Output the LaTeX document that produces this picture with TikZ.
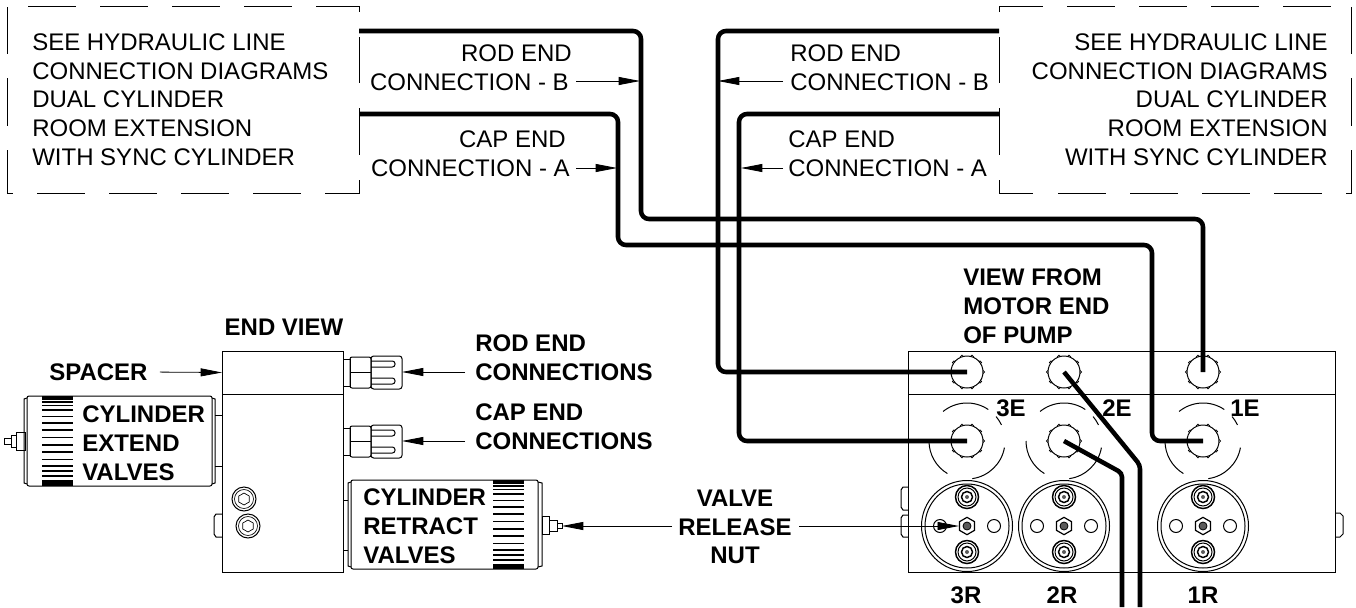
\documentclass[tikz,border=0pt]{standalone}
\usepackage{fontspec}
\setmainfont{Liberation Sans}
\usetikzlibrary{arrows.meta,shapes.geometric}
\tikzset{
	x=0.75pt,y=-0.75pt,
	part/.style={line width=0.75pt},
	hose/.style={line width=3.4pt},
	leader/.style={line width=0.6pt,-{Triangle[length=16pt,width=6pt]}},
	plain/.style={font=\fontsize{18}{21.56}\selectfont,inner sep=0pt},
	heavy/.style={font=\bfseries\fontsize{18}{21.56}\selectfont,inner sep=0pt},
	knob/.style={circle,draw,line width=0.75pt,fill=white,minimum size=24pt,inner sep=0pt},
	hexnut/.style={regular polygon,regular polygon sides=6,shape border rotate=30,draw,line width=0.9pt,fill=white,minimum size=13pt,inner sep=0pt},
}
\begin{document}
\begin{tikzpicture}
				% 颜色列表
				\definecolor{mygray}{RGB}{90,90,90}
				\useasboundingbox (0,0) rectangle (1356,607);
				
				% 左侧虚线框
				\foreach \a/\b in {28/76,100/148,172/220,244/292}
				\draw[part] (\a,6.5) -- (\b,6.5);
				\draw[part] (316,6.5) -- (359,6.5) -- (359,12);
				\draw[part] (359,37) -- (359,83);
				\draw[part] (359,108) -- (359,155);
				\draw[part] (359,180) -- (359,193) -- (325,193);
				\foreach \a/\b in {37/85,109/157,181/229,253/301}
				\draw[part] (\a,193) -- (\b,193);
				\draw[part] (7,7) -- (7,54);
				\draw[part] (7,78) -- (7,126);
				\draw[part] (7,150) -- (7,193) -- (13,193);
				
				% 右侧虚线框
				\draw[part] (999,12) -- (999,6.5) -- (1043,6.5);
				\foreach \a/\b in {1067/1115,1139/1187,1211/1259,1283/1331}
				\draw[part] (\a,6.5) -- (\b,6.5);
				\draw[part] (999,37) -- (999,83);
				\draw[part] (999,108) -- (999,155);
				\draw[part] (999,180) -- (999,193) -- (1033,193);
				\foreach \a/\b in {1058/1106,1130/1178,1202/1250,1274/1322}
				\draw[part] (\a,193) -- (\b,193);
				\draw[part] (1351,7) -- (1351,54);
				\draw[part] (1351,78) -- (1351,126);
				\draw[part] (1351,150) -- (1351,193) -- (1346,193);
				
				% 文字
				\node[plain,anchor=west,align=left] (seeL) at (32,99.5) {SEE HYDRAULIC LINE\\CONNECTION DIAGRAMS\\DUAL CYLINDER\\ROOM EXTENSION\\WITH SYNC CYLINDER};
				\node[plain,anchor=east,align=right] (seeR) at (1328,99.5) {SEE HYDRAULIC LINE\\CONNECTION DIAGRAMS\\DUAL CYLINDER\\ROOM EXTENSION\\WITH SYNC CYLINDER};
				\node[plain,anchor=east,align=right] (rodL) at (569,67.5) {ROD END\kern-2.25pt\\CONNECTION - B};
				\node[plain,anchor=west,align=left] (rodR) at (790,67.5) {ROD END\\CONNECTION - B};
				\node[plain,anchor=east,align=right] (capL) at (570,154) {CAP END\kern3pt\\CONNECTION - A};
				\node[plain,anchor=west,align=left] (capR) at (788,154) {CAP END\\CONNECTION - A};
				\node[heavy,anchor=west] (spacer) at (49,372) {SPACER};
				\node[heavy] (endview) at (284,327) {END VIEW};
				\node[heavy,anchor=west,align=left] (rodconn) at (475,357.5) {ROD END\\CONNECTIONS};
				\node[heavy,anchor=west,align=left] (capconn) at (475,426.5) {CAP END\\CONNECTIONS};
				\node[heavy,anchor=west,align=left] (extend) at (82,443) {CYLINDER\\EXTEND\\VALVES};
				\node[heavy,anchor=west,align=left] (retract) at (363,526) {CYLINDER\\RETRACT\\VALVES};
				\node[heavy,align=center] (release) at (735,527) {VALVE\\RELEASE\\NUT};
				\node[heavy,anchor=west,align=left] (motor) at (963,306) {VIEW FROM\\MOTOR END\\OF PUMP};
				\foreach \x/\t in {1011/3E,1117/2E,1245/1E}
				\node[heavy] (lbl\t) at (\x,408) {\t};
				\foreach \x/\t in {966/3R,1062/2R,1203/1R}
				\node[heavy] (lbl\t) at (\x,595) {\t};
				
				% 端视图
				\draw[part] (222,351) rectangle (343,572);
				\draw[part] (222,394) -- (343,394);
				\draw[part] (222,514) -- (216,514) -- (214,517) -- (214,534) -- (216,537) -- (222,537);
				\foreach \x/\y in {244/499,248/526}{
				\draw[part] (\x,\y) circle (12);
				\draw[line width=0.5pt] (\x,\y) circle (9.5);
				\node[regular polygon,regular polygon sides=6,draw,line width=0.5pt,minimum size=9pt,inner sep=0pt,shape border rotate=30] at (\x,\y) {};
				}
				
				% 接头
				\foreach \y in {372,441}{
				\draw[part] (343,\y-13) rectangle (350,\y+14);
				\draw[part,rounded corners=1.5pt] (350,\y-15) rectangle (371,\y+16);
				\draw[part] (350,\y) -- (371,\y);
				\draw[part,rounded corners=2pt] (371,\y-16) rectangle (402,\y+17);
				\draw[part,rounded corners=2pt] (371,\y-11) -- (395,\y-11) -- (395,\y-5) -- (371,\y-5);
				\draw[part,rounded corners=2pt] (371,\y+6) -- (395,\y+6) -- (395,\y+12) -- (371,\y+12);
				}
				
				% 左阀
				\draw[part,rounded corners=1.5pt] (27,396) rectangle (212,486);
				\draw[part] (27,398) -- (24,399) -- (24,483) -- (27,484);
				\draw[part] (212,398) -- (215,399) -- (215,483) -- (212,484);
				\draw[part] (215,415) -- (222,415);
				\draw[part] (215,466) -- (222,466);
				\draw[part] (16,432) rectangle (25,450);
				\draw[part] (11,435) rectangle (16,447);
				\draw[part] (4,438) rectangle (11,444);
				
				% 右阀
				\draw[part,rounded corners=1.5pt] (351,480) rectangle (538,569);
				\draw[part] (351,482) -- (348,483) -- (348,566) -- (351,567);
				\draw[part] (538,482) -- (542,483) -- (542,566) -- (538,567);
				\draw[part] (343,500) -- (348,500);
				\draw[part] (343,550) -- (348,550);
				\draw[part] (542,516) rectangle (549,534);
				\draw[part] (549,520) rectangle (557,531);
				\draw[part] (557,523) rectangle (562,528);
				
				% 条纹
				\fill (42,396) rectangle (73,400);
				\fill (42,480) rectangle (73,486);
				\fill (493,480) rectangle (524,484);
				\fill (493,564) rectangle (524,569);
				\foreach \y in {402,405.5,410,416.5,423,430,437.5,445,452,459.5,466,471,476}{
				\draw[line width=1pt] (42,\y) -- (73,\y);
				\draw[line width=1pt] (493,\y+84) -- (524,\y+84);
				}
				
				% 泵体
				\draw[part] (908,351) rectangle (1335,572);
				\draw[part] (908,394) -- (1335,394);
				\draw[part] (908,487) -- (903,487) -- (901,490) -- (901,507) -- (903,510) -- (908,510);
				\draw[part] (908,515) -- (903,515) -- (901,518) -- (901,534) -- (903,537) -- (908,537);
				\draw[part] (1335,513) -- (1340,513) -- (1343,516) -- (1343,534) -- (1340,537) -- (1335,537);
				
				% 旋钮与圆弧
				\foreach \x/\n in {967/3,1064/2,1203/1}{
				\foreach \y in {372,441}
				\foreach \a in {0,36,...,324}
				\draw[line width=0.5pt] (\x,\y) ++(\a:12pt) circle (1.7);
				\node[knob] (rod\n) at (\x,372) {};
				\node[knob] (cap\n) at (\x,441) {};
				\foreach \s/\e in {129/56,40/25,-10/-82,180/239}
				\draw[part] (\x,441) ++(\s:28.5pt) arc[start angle=\s,end angle=\e,radius=28.5pt];
				}
				
				% 圆盘
				\foreach \x/\n in {967/3,1064/2,1203/1}{
				\draw[part] (\x,526) circle (45.5);
				\draw[part] (\x,526) circle (42);
				\draw[part] (\x-27,526) circle (6.5);
				\draw[part] (\x+27,526) circle (6.5);
				\foreach \y in {497,552}{
				\draw[line width=1.1pt] (\x,\y) circle (11.5);
				\draw[part] (\x,\y) circle (9);
				\draw[line width=1.1pt] (\x,\y) circle (5.5);
				\fill[mygray] (\x,\y) circle (2);
				}
				\node[hexnut] (hex\n) at (\x,526) {};
				\filldraw[fill=mygray,line width=0.6pt] (\x,526) circle (4);
				}
				
				% 引线
				\coordinate (spacerTip) at (222,372.5);
				\draw[leader,shorten <=9pt] (spacer.east) -- (spacerTip);
				\coordinate (rodStart) at (465,372);
				\coordinate (rodTip) at (402,372);
				\draw[leader] (rodStart) -- (rodTip);
				\coordinate (capStart) at (465,441);
				\coordinate (capTip) at (402,441);
				\draw[leader] (capStart) -- (capTip);
				\coordinate (lbStart) at (576,81);
				\coordinate (lbTip) at (640,81);
				\draw[leader] (lbStart) -- (lbTip);
				\coordinate (laStart) at (576,168);
				\coordinate (laTip) at (617,168);
				\draw[leader] (laStart) -- (laTip);
				\coordinate (rbStart) at (783,81);
				\coordinate (rbTip) at (718,81);
				\draw[leader] (rbStart) -- (rbTip);
				\coordinate (raStart) at (783,168);
				\coordinate (raTip) at (741,168);
				\draw[leader] (raStart) -- (raTip);
				\coordinate (relLeft) at (672,526);
				\coordinate (nutTip) at (562,526);
				\draw[leader] (relLeft) -- (nutTip);
				\coordinate (relRight) at (799,526);
				\draw[leader] (relRight) -- (hex3.west);
				
				% 油管
				\coordinate (hoseLB) at (359,31);
				\coordinate (hoseLA) at (359,114);
				\coordinate (hoseRB) at (999,31);
				\coordinate (hoseRA) at (999,114);
				\coordinate (hose2E) at (1140,607);
				\coordinate (hose2R) at (1122,607);
				\draw[hose,rounded corners=6pt] (hoseLB) -- (641,31) -- (641,219) -- (1203,219) -- (rod1.center);
				\draw[hose,rounded corners=6pt] (hoseLA) -- (618,114) -- (618,245) -- (1152,245) -- (1152,441) -- (cap1.center);
				\draw[hose,rounded corners=6pt] (hoseRB) -- (718,31) -- (718,372) -- (rod3.center);
				\draw[hose,rounded corners=6pt] (hoseRA) -- (739,114) -- (739,441) -- (cap3.center);
				\draw[hose,rounded corners=3pt] (rod2.center) -- (1140,465) -- (hose2E);
				\draw[hose,rounded corners=3pt] (cap2.center) -- (1122,473) -- (hose2R);
				
\end{tikzpicture}
\end{document}
